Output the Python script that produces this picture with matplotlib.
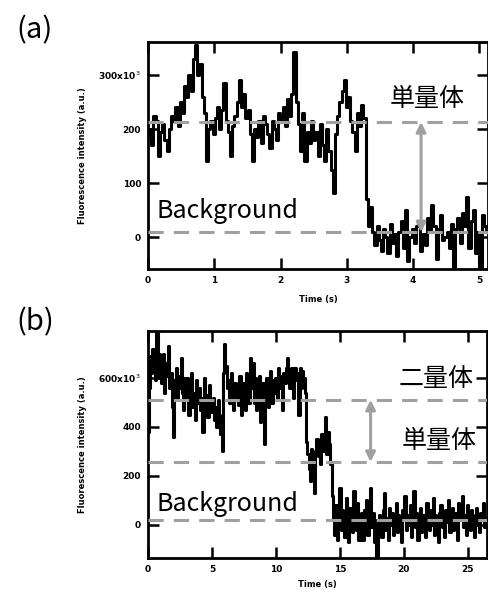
import numpy as np
import matplotlib.pyplot as plt

plt.rcParams['font.family'] = ['Noto Sans CJK JP', 'DejaVu Sans']

# (a) 単量体のトレース (frame interval 33 ms)
dt_a = 0.033
sig_a = [185, 200, 170, 225, 215, 150, 195, 210, 180, 160, 200, 225, 215, 240, 205,
         250, 230, 280, 260, 300, 270,
         330, 355, 300, 320, 260, 230,
         140, 200, 215, 190,
         220, 240, 200, 235, 285, 215, 195, 150, 205, 225,
         250, 290, 240, 265, 220, 235, 190, 140,
         200, 185, 215, 175, 225, 210, 190, 165, 215, 200, 180, 230, 215, 240, 205, 255, 225, 265,
         343,
         250, 210, 160, 230, 140, 195, 175, 215,
         180, 195, 150, 210, 170, 140, 200, 160, 125, 81,
         190, 225, 250, 270, 290, 240, 260, 215, 195, 160, 230, 205, 245, 220,
         70, 20,
         55, 10, -15, 20, -5, -25, 15, 0, -30, 25, -10, 5, -35, 10, 30, -20, 50, -45,
         0, 15, -10, 20, 30, -25, 5, -15, 35, 10, 60, 20, -40, 15, 40, -5, 0, 10,
         -20, 25, -55, 15, 35, -10, 45, 20, 75, -20, 30, 50, -30, 10, -55, 40, 20, 10]
levels_a = [9, 213]          # Background, 単量体
arrow_a = (4.12, 213, 9)

# (b) 二量体のトレース (frame interval 100 ms)
dt_b = 0.1
sig_b = [380, 560, 690, 620, 720, 650, 590, 785, 600, 700,
         640, 580, 700, 540, 660, 610, 730, 560, 620, 480,
         360, 590, 640, 520, 610, 560, 680, 540, 470, 600,
         520, 600, 450, 560, 620, 480, 540, 430, 590, 500,
         560, 470, 520, 380, 600, 480, 530, 440, 570, 500,
         460, 520, 430, 480, 400, 510, 450, 370, 300, 620,
         740, 650, 560, 590, 500, 620, 530, 470, 580, 510,
         560, 490, 610, 450, 530, 580, 470, 620, 540, 500,
         680, 560, 660, 500, 600, 470, 550, 610, 420, 560,
         580, 330, 520, 600, 480, 560, 630, 500, 590, 540,
         600, 520, 640, 560, 610, 470, 620, 580, 640, 680,
         630, 560, 640, 600, 520, 640, 590, 620, 450, 640, 560, 630, 600, 540,
         340, 290, 230, 180, 310, 260, 130, 300, 350, 280,
         320, 250, 370, 300, 340, 440, 290, 380, 330, 250,
         120, 20, -40, 80, -60, 40, 150, -20, 60, 0,
         -50, 110, 30, -70, 70, 10, -30, 140, 40, -20,
         90, -60, 20, 50, -60, 60, 0, 100, -40, 30,
         150, -10, 50, -70, 20, -130, -30, 40, 10, -50,
         60, 130, -20, 30, -60, 70, 0, 50, -40, 20,
         90, -30, 40, 10, -70, 60, 20, 120, -20, 40,
         0, 80, -50, 30, 140, -10, 50, -60, 20, 70,
         -30, 40, 10, -50, 90, 30, -20, 60, 0, 110,
         -40, 40, 20, -70, 50, 80, -10, 30, -50, 60,
         10, 100, -30, 40, 70, -20, 50, 0, -60, 90,
         30, 60, 120, -10, 40, -40, 80, 20, -20, 60,
         10, -50, 40, 70, 0, -30, 50, 20, 90, -10, 30]
levels_b = [20, 257, 511]    # Background, 単量体, 二量体
arrow_b = (17.4, 511, 257)

gray = '#a0a0a0'
W, H = 489, 590


def style(ax, xlim, ylim, xticks, yticks, ylabels):
    ax.set_xlim(*xlim)
    ax.set_ylim(*ylim)
    ax.set_xticks(xticks)
    ax.set_yticks(yticks)
    ax.set_yticklabels(ylabels)
    for s in ax.spines.values():
        s.set_linewidth(2.0)
    ax.tick_params(direction='in', length=8, width=1.8, top=True, right=True,
                   labelsize=6.5, pad=5)
    for lab in ax.get_xticklabels() + ax.get_yticklabels():
        lab.set_fontweight('bold')
        lab.set_family('DejaVu Sans')
    ax.set_xlabel('Time (s)', fontsize=6, fontweight='bold', family='DejaVu Sans')
    ax.set_ylabel('Fluorescence intensity (a.u.)', fontsize=6, fontweight='bold',
                  family='DejaVu Sans')
    ax.yaxis.set_label_coords(-0.18, 0.5)


def gray_arrow(ax, x, y0, y1):
    ax.annotate('', xy=(x, y1), xytext=(x, y0),
                arrowprops=dict(arrowstyle='<|-|>', color=gray, lw=2.2,
                                mutation_scale=14, shrinkA=0, shrinkB=0), zorder=4)


fig = plt.figure(figsize=(W / 100, H / 100), dpi=100)

# ---- (a)
ax_a = fig.add_axes([148 / W, 1 - 269 / H, 340 / W, 227 / H])
t_a = np.arange(len(sig_a)) * dt_a
ax_a.plot(t_a, sig_a, color='black', lw=2.2, drawstyle='steps-mid', zorder=2)
for lv in levels_a:
    ax_a.axhline(lv, color=gray, lw=2.2, dashes=(5, 3.3), zorder=3)
gray_arrow(ax_a, *arrow_a)
style(ax_a, (0, 5.13), (-59, 361), [0, 1, 2, 3, 4, 5], [0, 100, 200, 300],
      ['0', '100', '200', '300x10$^3$'])
ax_a.xaxis.set_label_coords(0.5, -0.115)
ax_a.text(3.65, 255, '単量体', fontsize=18, va='center', zorder=5)
ax_a.text(0.13, 35, 'Background', fontsize=18, va='baseline', zorder=5)
fig.text(16 / W, 1 - 30 / H, '(a)', fontsize=21, va='center')

# ---- (b)
ax_b = fig.add_axes([148 / W, 1 - 558 / H, 339 / W, 227 / H])
t_b = np.arange(len(sig_b)) * dt_b
ax_b.plot(t_b, sig_b, color='black', lw=2.2, drawstyle='steps-mid', zorder=2)
for lv in levels_b:
    ax_b.axhline(lv, color=gray, lw=2.2, dashes=(5, 3.3), zorder=3)
gray_arrow(ax_b, *arrow_b)
style(ax_b, (0, 26.5), (-135, 792), [0, 5, 10, 15, 20, 25], [0, 200, 400, 600],
      ['0', '200', '400', '600x10$^3$'])
ax_b.xaxis.set_label_coords(0.5, -0.095)
ax_b.text(19.6, 596, '二量体', fontsize=18, va='center', zorder=5)
ax_b.text(19.8, 341, '単量体', fontsize=18, va='center', zorder=5)
ax_b.text(0.7, 57, 'Background', fontsize=18, va='baseline', zorder=5)
fig.text(16 / W, 1 - 322 / H, '(b)', fontsize=21, va='center')

fig.savefig('out.png', dpi=100)
